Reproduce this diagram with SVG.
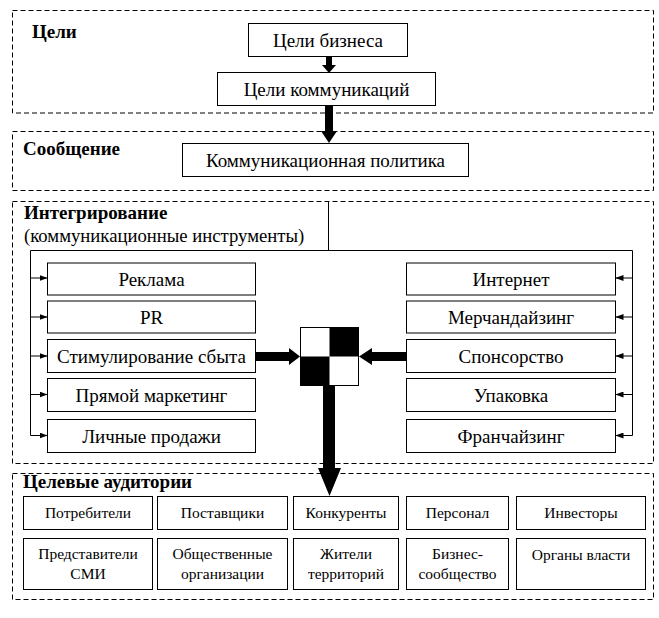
<svg xmlns="http://www.w3.org/2000/svg" width="659" height="618" viewBox="0 0 659 618">
<style>
text{font-family:'Liberation Serif','DejaVu Serif',serif;fill:#000}
.sec{fill:none;stroke:#000;stroke-width:1;stroke-dasharray:5,3}
.box{fill:#fff;stroke:#000;stroke-width:1}
.t{font-size:19px;text-anchor:middle}
.s{font-size:15.5px;text-anchor:middle}
.h{font-size:19px;font-weight:bold}
.p{font-size:18.7px}
.ln{fill:none;stroke:#000;stroke-width:1}
.blk{fill:#000;stroke:none}
</style>
<defs>
<marker id="ah" viewBox="0 0 8 6" refX="8" refY="3" markerWidth="8" markerHeight="6" markerUnits="userSpaceOnUse" orient="auto">
<path d="M0,0 L8,3 L0,6 Z" fill="#000"/>
</marker>
</defs>
<rect width="659" height="618" fill="#fff"/>

<g id="sections">
<rect class="sec" x="12.5" y="10.5" width="641" height="102.5"/>
<rect class="sec" x="12.5" y="131.5" width="641" height="59"/>
<rect class="sec" x="12.5" y="201.5" width="641" height="262"/>
<rect class="sec" x="12.5" y="473.5" width="641" height="126"/>
<text class="h" x="32" y="38">Цели</text>
<text class="h" x="23" y="155">Сообщение</text>
<text class="h" x="24" y="219">Интегрирование</text>
<text class="p" x="24" y="242">(коммуникационные инструменты)</text>
<text class="h" x="23" y="488">Целевые аудитории</text>
</g>

<g id="connectors">
<path class="ln" d="M328.5,201.5 V250.5"/>
<path class="ln" d="M30.5,435.5 V250.5 H632.5 V435.5"/>
<path class="ln" marker-end="url(#ah)" d="M30.5,278 H47.5"/>
<path class="ln" marker-end="url(#ah)" d="M30.5,317 H47.5"/>
<path class="ln" marker-end="url(#ah)" d="M30.5,356 H47.5"/>
<path class="ln" marker-end="url(#ah)" d="M30.5,394.5 H47.5"/>
<path class="ln" marker-end="url(#ah)" d="M30.5,435.5 H47.5"/>
<path class="ln" marker-end="url(#ah)" d="M632.5,278 H615.5"/>
<path class="ln" marker-end="url(#ah)" d="M632.5,317 H615.5"/>
<path class="ln" marker-end="url(#ah)" d="M632.5,356 H615.5"/>
<path class="ln" marker-end="url(#ah)" d="M632.5,394.5 H615.5"/>
<path class="ln" marker-end="url(#ah)" d="M632.5,435.5 H615.5"/>
<polygon class="blk" points="326,56 332,56 332,65 336,65 329,73 322,65 326,65"/>
<polygon class="blk" points="325,105 333,105 333,131 337,131 329,143 321,131 325,131"/>
<polygon class="blk" points="255,352 289,352 289,348 300,356.5 289,365 289,361 255,361"/>
<polygon class="blk" points="406,352 372,352 372,348 359,356.5 372,365 372,361 406,361"/>
<polygon class="blk" points="323,386 335,386 335,468 341,468 329.5,496 318,468 323,468"/>
</g>

<g id="n-biz"><rect class="box" x="248.5" y="23.5" width="159" height="33"/><text class="t" x="328" y="46.5">Цели бизнеса</text></g>
<g id="n-comm"><rect class="box" x="217.5" y="72.5" width="218" height="33"/><text class="t" x="326.5" y="95.5">Цели коммуникаций</text></g>
<g id="n-policy"><rect class="box" x="182.5" y="143.5" width="286" height="33"/><text class="t" x="325.5" y="166.5">Коммуникационная политика</text></g>

<g id="n-reklama"><rect class="box" x="47.5" y="263" width="208" height="32"/><text class="t" x="151.5" y="285.5">Реклама</text></g>
<g id="n-pr"><rect class="box" x="47.5" y="301" width="208" height="32"/><text class="t" x="151.5" y="323.5">PR</text></g>
<g id="n-stim"><rect class="box" x="47.5" y="339.5" width="208" height="33"/><text class="t" x="151.5" y="362.5">Стимулирование сбыта</text></g>
<g id="n-direct"><rect class="box" x="47.5" y="378.5" width="208" height="33"/><text class="t" x="151.5" y="401.5">Прямой маркетинг</text></g>
<g id="n-personal"><rect class="box" x="47.5" y="419.5" width="208" height="33"/><text class="t" x="151.5" y="442.5">Личные продажи</text></g>

<g id="n-internet"><rect class="box" x="406.5" y="263" width="209" height="32"/><text class="t" x="511" y="285.5">Интернет</text></g>
<g id="n-merch"><rect class="box" x="406.5" y="301" width="209" height="32"/><text class="t" x="511" y="323.5">Мерчандайзинг</text></g>
<g id="n-sponsor"><rect class="box" x="406.5" y="339.5" width="209" height="33"/><text class="t" x="511" y="362.5">Спонсорство</text></g>
<g id="n-pack"><rect class="box" x="406.5" y="378.5" width="209" height="33"/><text class="t" x="511" y="401.5">Упаковка</text></g>
<g id="n-franch"><rect class="box" x="406.5" y="419.5" width="209" height="33"/><text class="t" x="511" y="442.5">Франчайзинг</text></g>

<g id="n-mix">
<rect class="box" x="300.5" y="327.5" width="58" height="58"/>
<rect class="blk" x="329.5" y="327.5" width="29" height="29"/>
<rect class="blk" x="300.5" y="356.5" width="29" height="29"/>
<rect fill="none" stroke="#000" x="300.5" y="327.5" width="58" height="58"/>
</g>

<g id="n-consumers"><rect class="box" x="23.5" y="496.5" width="129" height="33"/><text class="s" x="88" y="518">Потребители</text></g>
<g id="n-suppliers"><rect class="box" x="157.5" y="496.5" width="130" height="33"/><text class="s" x="222.5" y="518">Поставщики</text></g>
<g id="n-competitors"><rect class="box" x="293.5" y="496.5" width="105" height="33"/><text class="s" x="346" y="518">Конкуренты</text></g>
<g id="n-staff"><rect class="box" x="406.5" y="496.5" width="102" height="33"/><text class="s" x="457.5" y="518">Персонал</text></g>
<g id="n-investors"><rect class="box" x="516.5" y="496.5" width="129" height="33"/><text class="s" x="581" y="518">Инвесторы</text></g>

<g id="n-media"><rect class="box" x="23.5" y="538.5" width="129" height="51"/><text class="s" x="88" y="559">Представители</text><text class="s" x="88" y="579">СМИ</text></g>
<g id="n-public"><rect class="box" x="157.5" y="538.5" width="130" height="51"/><text class="s" x="222.5" y="559">Общественные</text><text class="s" x="222.5" y="579">организации</text></g>
<g id="n-residents"><rect class="box" x="293.5" y="538.5" width="105" height="51"/><text class="s" x="346" y="559">Жители</text><text class="s" x="346" y="579">территорий</text></g>
<g id="n-business"><rect class="box" x="406.5" y="538.5" width="102" height="51"/><text class="s" x="457.5" y="559">Бизнес-</text><text class="s" x="457.5" y="579">сообщество</text></g>
<g id="n-authorities"><rect class="box" x="516.5" y="538.5" width="129" height="51"/><text class="s" x="581" y="560">Органы власти</text></g>
</svg>
